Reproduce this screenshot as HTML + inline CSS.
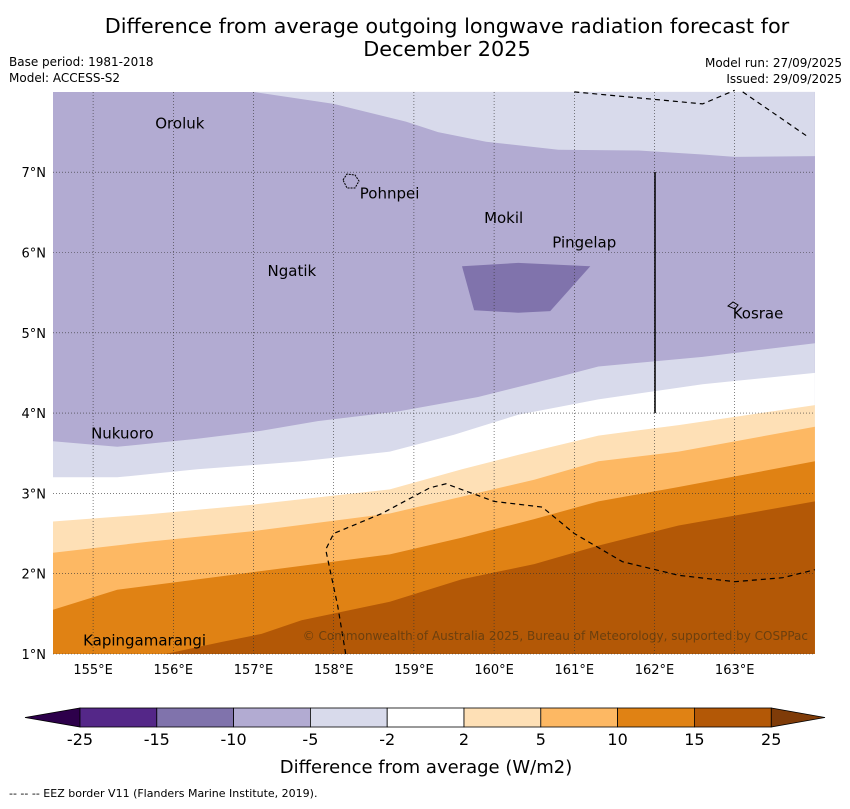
<!DOCTYPE html>
<html><head><meta charset="utf-8"><style>
body{margin:0;background:#fff;font-family:"Liberation Sans","DejaVu Sans",sans-serif}
</style></head><body>
<svg width="850" height="804" xmlns="http://www.w3.org/2000/svg" font-family="DejaVu Sans, Liberation Sans, sans-serif">
<text x="447" y="33" font-size="20.8" text-anchor="middle">Difference from average outgoing longwave radiation forecast for</text>
<text x="447" y="56" font-size="20.8" text-anchor="middle">December 2025</text>
<text x="9" y="66" font-size="12">Base period: 1981-2018</text>
<text x="9" y="82" font-size="12">Model: ACCESS-S2</text>
<text x="842" y="67" font-size="12" text-anchor="end">Model run: 27/09/2025</text>
<text x="842" y="83" font-size="12" text-anchor="end">Issued: 29/09/2025</text>
<g id="map"></g>
<g id="cbar"></g>
<text x="426" y="773" font-size="18" text-anchor="middle">Difference from average (W/m2)</text>
<text x="9" y="797" font-size="11">-- -- -- EEZ border V11 (Flanders Marine Institute, 2019).</text>
</svg>
<script>
const levels=[-25,-15,-10,-5,-2,2,5,10,15,25];
const colors=["#542788","#8073ac","#b2abd2","#d8daeb","#ffffff","#fee0b6","#fdb863","#e08214","#b35806"];
const lonTicks=[155,156,157,158,159,160,161,162,163];
const latTicks=[1,2,3,4,5,6,7];
const topLightEdge=[[157.0,8],[158.0,7.85],[158.9,7.63],[159.3,7.5],[159.9,7.38],[160.8,7.28],[161.8,7.27],[162.6,7.22],[163,7.19],[164,7.2]];
const b_m10=[[154.5,3.65],[155.3,3.58],[156.3,3.68],[157.1,3.78],[157.8,3.9],[158.8,4.02],[159.8,4.2],[160.8,4.45],[161.3,4.58],[162.6,4.7],[164,4.87]];
const b_m5=[[154.5,3.2],[155.3,3.2],[156.3,3.3],[157.6,3.4],[158.7,3.52],[159.5,3.73],[160.3,3.98],[161.3,4.17],[162.6,4.36],[164,4.5]];
const b_m2=[[154.5,2.65],[155.7,2.74],[157,2.86],[158.7,3.05],[159.6,3.3],[160.3,3.48],[161.3,3.72],[162.3,3.85],[164,4.1]];
const b_2=[[154.5,2.26],[155.7,2.4],[157,2.53],[158.7,2.75],[159.6,2.96],[160.5,3.17],[161.3,3.4],[162.3,3.52],[164,3.83]];
const b_5=[[154.5,1.55],[155.3,1.8],[157,2.02],[158.7,2.24],[159.6,2.45],[160.5,2.68],[161.3,2.9],[162.3,3.08],[164,3.4]];
const b_10=[[155.9,1],[156.6,1.15],[157.1,1.25],[157.6,1.42],[158.7,1.65],[159.6,1.93],[160.5,2.12],[161.3,2.35],[162.3,2.6],[164,2.9]];
const patch=[[159.6,5.83],[160.3,5.87],[161.2,5.83],[160.7,5.27],[160.3,5.25],[159.75,5.28]];
const places=[["Oroluk",155.75,7.62],["Pohnpei",158.3,6.75],["Mokil",159.85,6.44],["Pingelap",160.7,6.14],["Ngatik",157.15,5.78],["Kosrae",162.95,5.25],["Nukuoro",154.95,3.76],["Kapingamarangi",154.85,1.18]];
const X=lon=>53+(lon-154.5)*80.2, Y=lat=>654-(lat-1)*80.3;
const NS="http://www.w3.org/2000/svg";
const map=document.getElementById('map');
function el(t,a,p){const e=document.createElementNS(NS,t);for(const k in a)e.setAttribute(k,a[k]);(p||map).appendChild(e);return e;}
const pts=a=>a.map(p=>X(p[0]).toFixed(1)+','+Y(p[1]).toFixed(1)).join(' ');
let e=el('rect',{x:53,y:92,width:762,height:562,fill:colors[2]});


e=el('polygon',{points:pts(topLightEdge)+' '+X(164)+','+Y(8),fill:colors[3]});


const bands=[[b_m10,3],[b_m5,4],[b_m2,5],[b_2,6],[b_5,7],[b_10,8]];
bands.forEach(([b,ci])=>{
 const first=b[0];
 const p=pts(b)+' '+X(164)+','+Y(1)+' '+X(first[0])+','+Y(1)+' '+X(154.5)+','+Y(first[1]);
 const g=el('polygon',{points:p,fill:colors[ci]});
 
 
});
e=el('polygon',{points:pts(patch),fill:colors[1]});


lonTicks.forEach(l=>{const g=el('line',{x1:X(l),x2:X(l),y1:92,y2:654,stroke:'#333','stroke-width':0.6,'stroke-dasharray':'1,2'});

const t=el('text',{x:X(l),y:674,'font-size':13,'text-anchor':'middle'});t.textContent=l+'°E';
});
latTicks.forEach(l=>{const g=el('line',{x1:53,x2:815,y1:Y(l),y2:Y(l),stroke:'#333','stroke-width':0.6,'stroke-dasharray':'1,2'});

const t=el('text',{x:46,y:Y(l)+5,'font-size':13,'text-anchor':'end'});t.textContent=l+'°N';
});
const eez=[[[161,8],[162.6,7.85],[163,8.02]],[[163.1,8],[163.9,7.45]],[[158.15,1],[158.05,1.6],[157.9,2.3],[158,2.5],[158.6,2.75],[159.2,3.07],[159.4,3.12],[160,2.9],[160.6,2.83],[161,2.5],[161.6,2.15],[162.3,1.98],[163,1.9],[163.6,1.95],[164,2.05]]];
eez.forEach(s=>{const g=el('polyline',{points:pts(s),fill:'none',stroke:'#000','stroke-width':1.2,'stroke-dasharray':'5,4'});
});
e=el('line',{x1:655,x2:655,y1:172,y2:413,stroke:'#000','stroke-width':1.5});

e=el('path',{d:'M343,180 l4,-6 l8,1 l4,6 l-4,7 l-8,0 z',fill:'none',stroke:'#000','stroke-dasharray':'2,1'});

e=el('path',{d:'M728,306 l5,-4 l5,3 l-3,4 z',fill:'none',stroke:'#000'});

places.forEach(([n,lo,la])=>{const t=el('text',{x:X(lo)+2,y:Y(la)+6,'font-size':15});t.textContent=n;
});
e=el('text',{x:808,y:640,'font-size':12,'text-anchor':'end',fill:'#5a3a10','fill-opacity':0.8});
e.textContent='© Commonwealth of Australia 2025, Bureau of Meteorology, supported by COSPPac';

const cb=document.getElementById('cbar');
const cx0=80,cw=76.8,cy=708,ch=19;
e=el('polygon',{points:`${cx0},${cy} ${cx0},${cy+ch} 25,${cy+ch/2}`,fill:'#2d004b',stroke:'#000','stroke-width':0.8},cb);

const xe=cx0+cw*colors.length;
e=el('polygon',{points:`${xe},${cy} ${xe},${cy+ch} 825,${cy+ch/2}`,fill:'#7f3b08',stroke:'#000','stroke-width':0.8},cb);

colors.forEach((c,i)=>{const r=el('rect',{x:cx0+i*cw,y:cy,width:cw,height:ch,fill:c,stroke:'#000','stroke-width':0.8},cb);
});
levels.forEach((l,i)=>{const t=el('text',{x:cx0+i*cw,y:745,'font-size':16,'text-anchor':'middle'},cb);t.textContent=l;
});
</script>
</body></html>
